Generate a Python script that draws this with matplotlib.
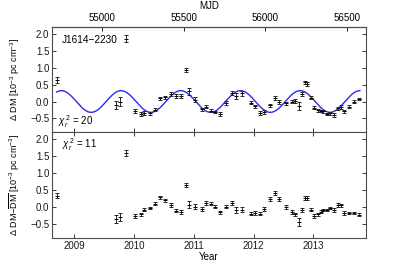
import numpy as np
import matplotlib
matplotlib.use("Agg")
import matplotlib.pyplot as plt

plt.rcParams['font.family'] = ['Liberation Sans', 'DejaVu Sans']
plt.rcParams['mathtext.fontset'] = 'custom'
plt.rcParams['mathtext.rm'] = 'Liberation Sans'
plt.rcParams['mathtext.it'] = 'Liberation Sans:italic'

# epochs (years)
years = [2008.70, 2009.70, 2009.77, 2009.87, 2010.02, 2010.11, 2010.16, 2010.27,
         2010.35, 2010.43, 2010.51, 2010.62, 2010.70, 2010.79, 2010.87, 2010.92,
         2011.02, 2011.13, 2011.20, 2011.28, 2011.35, 2011.44, 2011.54, 2011.63,
         2011.71, 2011.80, 2011.95, 2012.03, 2012.11, 2012.18, 2012.27, 2012.36,
         2012.43, 2012.55, 2012.65, 2012.70, 2012.76, 2012.81, 2012.86, 2012.90,
         2012.96, 2013.01, 2013.07, 2013.12, 2013.17, 2013.23, 2013.28, 2013.35,
         2013.41, 2013.46, 2013.52, 2013.60, 2013.68, 2013.77]

dm = [0.64, -0.10, 0.00, 1.86, -0.29, -0.37, -0.34, -0.35,
      -0.24, 0.09, 0.12, 0.22, 0.16, 0.15, 0.93, 0.30,
      0.05, -0.23, -0.15, -0.27, -0.31, -0.37, -0.04, 0.25,
      0.17, 0.24, -0.03, -0.14, -0.34, -0.31, -0.11, 0.09,
      -0.01, -0.05, 0.00, 0.02, -0.12, 0.22, 0.57, 0.52,
      0.11, -0.18, -0.26, -0.28, -0.29, -0.37, -0.35, -0.40,
      -0.20, -0.16, -0.29, -0.15, -0.01, 0.07]

resid = [0.34, -0.34, -0.29, 1.59, -0.26, -0.21, -0.07, -0.02,
         0.10, 0.29, 0.20, 0.07, -0.10, -0.14, 0.65, 0.07,
         0.02, -0.05, 0.12, 0.10, 0.02, -0.15, 0.02, 0.12,
         -0.07, -0.07, -0.19, -0.17, -0.19, -0.05, 0.24, 0.41,
         0.24, 0.00, -0.14, -0.21, -0.43, -0.08, 0.27, 0.27,
         -0.07, -0.26, -0.21, -0.13, -0.08, -0.08, -0.02, -0.08,
         0.07, 0.05, -0.17, -0.17, -0.17, -0.22]

err = [0.08, 0.12, 0.12, 0.09, 0.06, 0.05, 0.05, 0.04,
       0.05, 0.05, 0.05, 0.05, 0.05, 0.06, 0.05, 0.10,
       0.07, 0.05, 0.05, 0.04, 0.04, 0.05, 0.05, 0.06,
       0.09, 0.07, 0.04, 0.05, 0.05, 0.05, 0.05, 0.06,
       0.05, 0.05, 0.05, 0.05, 0.12, 0.06, 0.05, 0.05,
       0.05, 0.05, 0.04, 0.04, 0.04, 0.04, 0.04, 0.05,
       0.05, 0.05, 0.05, 0.04, 0.04, 0.04]

# annual sinusoid model
amp, period, t_peak = 0.32, 1.0, 2009.78
t_model = np.linspace(2008.70, 2013.78, 500)
model = amp * np.cos(2 * np.pi * (t_model - t_peak) / period)

year_ticks = [2009, 2010, 2011, 2012, 2013]
mjd_ticks = [55000, 55500, 56000, 56500]
yticks = [-0.5, 0.0, 0.5, 1.0, 1.5, 2.0]


def yr2mjd(y):
    return 51544.5 + (np.asarray(y) - 2000.0) * 365.25


def mjd2yr(m):
    return 2000.0 + (np.asarray(m) - 51544.5) / 365.25


fig = plt.figure(figsize=(4.07, 2.65), dpi=100)
ax1 = fig.add_axes([0.128, 0.502, 0.771, 0.396])
ax2 = fig.add_axes([0.128, 0.102, 0.771, 0.400])

ebkw = dict(fmt='_', color='k', ecolor='0.15', markersize=2.5, elinewidth=0.7,
            capsize=1.3, capthick=0.7, markeredgewidth=0.7)

ax1.plot(t_model, model, color='#2b2bf0', lw=1.0)
ax1.errorbar(years, dm, yerr=err, **ebkw)
ax2.errorbar(years, resid, yerr=err, **ebkw)

for ax in (ax1, ax2):
    ax.set_xlim(2008.625, 2013.88)
    ax.set_ylim(-0.9, 2.2)
    ax.set_yticks(yticks)
    ax.set_xticks(year_ticks)
    ax.tick_params(direction='in', length=3, width=0.6, labelsize=7,
                   top=True, right=True, pad=2, colors='0.1')
    for s in ax.spines.values():
        s.set_linewidth(0.8)
        s.set_color('0.3')

ax1.tick_params(labelbottom=False, top=False)
ax2.set_xlabel('Year', fontsize=7, labelpad=1)

sec = ax1.secondary_xaxis('top', functions=(yr2mjd, mjd2yr))
sec.set_xticks(mjd_ticks)
sec.tick_params(direction='in', length=3, width=0.6, labelsize=7, pad=3)
sec.set_xlabel('MJD', fontsize=7, labelpad=3)

ax1.set_ylabel(r'$\Delta$ DM [10$^{-3}$ pc cm$^{-3}$]', fontsize=6.5)
ax2.set_ylabel(r'$\Delta$ DM$-\overline{\rm DM}$ [10$^{-3}$ pc cm$^{-3}$]',
               fontsize=6.5)
ax1.yaxis.set_label_coords(-0.095, 0.5)
ax2.yaxis.set_label_coords(-0.095, 0.5)

ax1.text(0.03, 0.875, 'J1614\u22122230', transform=ax1.transAxes, fontsize=7.2,
         va='center', ha='left')
ax1.text(0.02, 0.10, r'$\chi_r^{\,2}$ = 20', transform=ax1.transAxes, fontsize=7,
         va='center', ha='left')
ax2.text(0.03, 0.877, r'$\chi_r^{\,2}$ = 11', transform=ax2.transAxes, fontsize=7,
         va='center', ha='left')

fig.savefig('out.png', dpi=100)
plt.close(fig)
